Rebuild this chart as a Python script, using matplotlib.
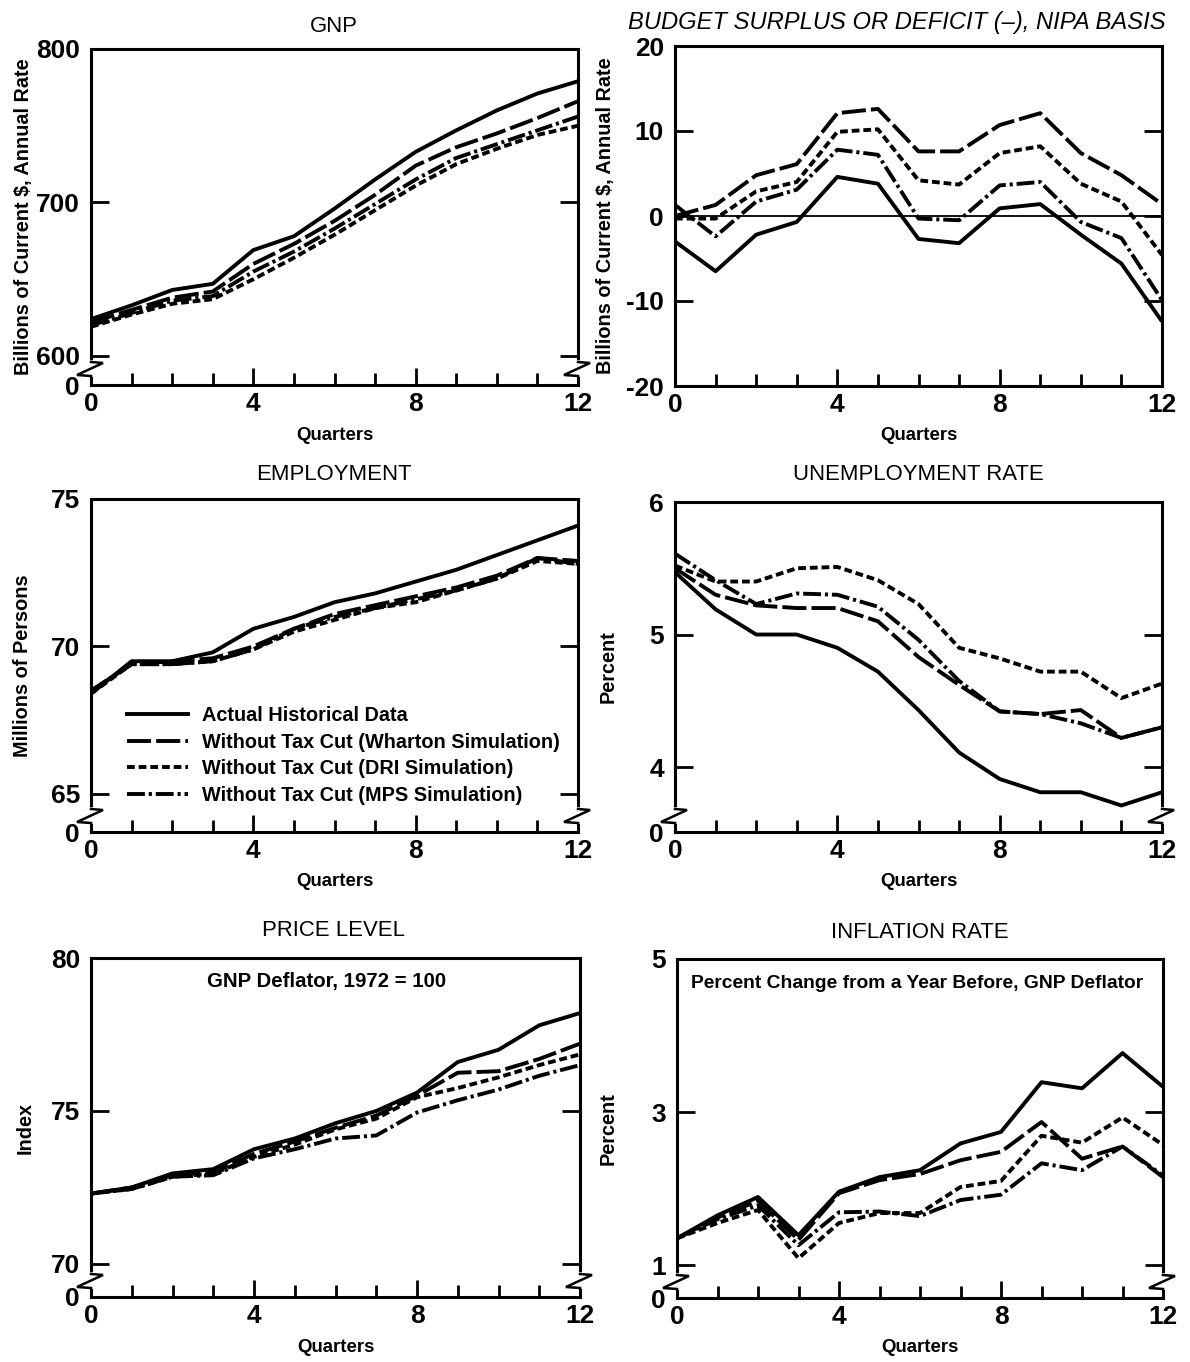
import matplotlib
matplotlib.use('Agg')
import matplotlib.pyplot as plt
from matplotlib.lines import Line2D
from matplotlib import font_manager

# prefer a condensed face like the original print
try:
    font_manager.findfont(font_manager.FontProperties(family='Liberation Sans Narrow'),
                          fallback_to_default=False)
    FAM = ['Liberation Sans Narrow', 'DejaVu Sans']
    K = 1.0
except Exception:
    FAM = ['Liberation Sans', 'DejaVu Sans']
    K = 0.84
plt.rcParams['font.family'] = FAM
plt.rcParams['axes.unicode_minus'] = False

W, H = 1190, 1362

# ---------------- data ----------------
quarters = list(range(13))
x_major = [0, 4, 8, 12]
series_names = ['Actual Historical Data',
                'Without Tax Cut (Wharton Simulation)',
                'Without Tax Cut (DRI Simulation)',
                'Without Tax Cut (MPS Simulation)']

gnp_actual = [624, 633, 643, 647, 669, 678, 696, 715, 733, 747, 760, 771, 779]
gnp_wharton = [622, 630, 638, 642, 660, 673, 688, 705, 724, 736, 745, 755, 766]
gnp_dri = [619, 627, 634, 637, 650, 664, 679, 695, 711, 725, 735, 744, 750]
gnp_mps = [620, 628, 636, 639, 655, 668, 683, 699, 715, 729, 738, 747, 756]

bud_actual = [-3.0, -6.5, -2.2, -0.7, 4.6, 3.8, -2.7, -3.2, 0.9, 1.4, -2.2, -5.6, -12.4]
bud_wharton = [0.0, 1.3, 4.8, 6.1, 12.1, 12.6, 7.6, 7.6, 10.7, 12.1, 7.4, 4.8, 1.4]
bud_dri = [-0.3, -0.3, 2.9, 4.0, 9.9, 10.2, 4.2, 3.7, 7.4, 8.2, 3.8, 1.7, -4.6]
bud_mps = [1.3, -2.4, 1.7, 3.1, 7.8, 7.2, -0.3, -0.5, 3.6, 4.0, -0.7, -2.6, -9.9]

emp_actual = [68.4, 69.5, 69.5, 69.8, 70.6, 71.0, 71.5, 71.8, 72.2, 72.6, 73.1, 73.6, 74.1]
emp_wharton = [68.5, 69.4, 69.5, 69.6, 70.0, 70.6, 71.1, 71.4, 71.7, 72.0, 72.4, 73.0, 72.9]
emp_dri = [68.4, 69.4, 69.4, 69.5, 69.9, 70.5, 70.9, 71.3, 71.5, 71.9, 72.3, 72.9, 72.8]
emp_mps = [68.5, 69.4, 69.4, 69.5, 69.9, 70.6, 71.0, 71.3, 71.6, 71.9, 72.3, 73.0, 72.8]

unr_actual = [5.47, 5.19, 5.0, 5.0, 4.9, 4.72, 4.43, 4.11, 3.91, 3.81, 3.81, 3.71, 3.81]
unr_wharton = [5.5, 5.3, 5.22, 5.2, 5.2, 5.1, 4.83, 4.62, 4.42, 4.4, 4.43, 4.22, 4.3]
unr_dri = [5.52, 5.4, 5.4, 5.5, 5.51, 5.41, 5.23, 4.9, 4.82, 4.72, 4.72, 4.52, 4.63]
unr_mps = [5.61, 5.41, 5.23, 5.31, 5.3, 5.21, 4.96, 4.65, 4.42, 4.4, 4.33, 4.22, 4.3]

prc_actual = [72.3, 72.5, 72.96, 73.1, 73.75, 74.1, 74.6, 75.0, 75.6, 76.6, 77.0, 77.8, 78.2]
prc_wharton = [72.3, 72.5, 72.9, 73.0, 73.6, 74.0, 74.45, 74.85, 75.5, 76.25, 76.3, 76.7, 77.2]
prc_dri = [72.3, 72.45, 72.85, 72.95, 73.5, 73.9, 74.4, 74.75, 75.45, 75.75, 76.1, 76.5, 76.85]
prc_mps = [72.3, 72.45, 72.85, 72.9, 73.45, 73.75, 74.1, 74.2, 74.95, 75.35, 75.7, 76.15, 76.5]

inf_actual = [1.35, 1.65, 1.89, 1.39, 1.96, 2.15, 2.24, 2.59, 2.74, 3.39, 3.31, 3.77, 3.33]
inf_wharton = [1.35, 1.62, 1.84, 1.33, 1.94, 2.11, 2.19, 2.37, 2.48, 2.87, 2.39, 2.55, 2.15]
inf_dri = [1.35, 1.55, 1.72, 1.09, 1.55, 1.68, 1.68, 2.02, 2.10, 2.69, 2.60, 2.93, 2.57]
inf_mps = [1.35, 1.60, 1.78, 1.26, 1.69, 1.70, 1.64, 1.85, 1.92, 2.33, 2.24, 2.55, 2.17]

gnp_ticks = [600, 700, 800]
bud_ticks = [-20, -10, 0, 10, 20]
emp_ticks = [65, 70, 75]
unr_ticks = [4, 5, 6]
prc_ticks = [70, 75, 80]
inf_ticks = [1, 3, 5]

# ---------------- styling ----------------
LW = 2.8
styles = [dict(linestyle='-'),
          dict(dashes=(6.2, 1.3)),
          dict(dashes=(2.0, 1.0)),
          dict(dashes=(4.6, 1.0, 0.8, 1.0))]

fig = plt.figure(figsize=(W / 100, H / 100), dpi=100)
fig.patch.set_facecolor('white')

panels = [
    dict(box=(91, 578, 49, 385), data=[gnp_actual, gnp_wharton, gnp_dri, gnp_mps],
         ticks=gnp_ticks, vb=581.1, top=800, brk=True, title='GNP',
         ylabel='Billions of Current $, Annual Rate', ylx=24, ty=26, tx=334, tsize=19),
    dict(box=(675, 1162, 46, 386), data=[bud_actual, bud_wharton, bud_dri, bud_mps],
         ticks=bud_ticks, vb=-20, top=20, brk=False,
         title='BUDGET SURPLUS OR DEFICIT (–), NIPA BASIS',
         ylabel='Billions of Current $, Annual Rate', ylx=606, ty=22, tx=897, tsize=20.4),
    dict(box=(91, 578, 499, 832), data=[emp_actual, emp_wharton, emp_dri, emp_mps],
         ticks=emp_ticks, vb=63.71, top=75, brk=True, title='EMPLOYMENT',
         ylabel='Millions of Persons', ylx=23, ty=475, tx=334, tsize=19),
    dict(box=(675, 1162, 502, 832), data=[unr_actual, unr_wharton, unr_dri, unr_mps],
         ticks=unr_ticks, vb=3.51, top=6, brk=True, title='UNEMPLOYMENT RATE',
         ylabel='Percent', ylx=608, ty=475, tx=918, tsize=19),
    dict(box=(91, 580, 958, 1297), data=[prc_actual, prc_wharton, prc_dri, prc_mps],
         ticks=prc_ticks, vb=68.92, top=80, brk=True, title='PRICE LEVEL',
         ylabel='Index', ylx=25, ty=931, tx=334, tsize=19,
         note='GNP Deflator, 1972 = 100', notexy=(327, 982), nsize=17.5),
    dict(box=(677, 1163, 959, 1298), data=[inf_actual, inf_wharton, inf_dri, inf_mps],
         ticks=inf_ticks, vb=0.57, top=5, brk=True, title='INFLATION RATE',
         ylabel='Percent', ylx=608, ty=932, tx=920, tsize=19,
         note='Percent Change from a Year Before, GNP Deflator', notexy=(917, 983),
         nsize=16.5),
]


def fx(px):
    return px / W


def fy(py):
    return 1 - py / H


axes = []
for p in panels:
    L, R, T, B = p['box']
    ax = fig.add_axes([L / W, 1 - B / H, (R - L) / W, (B - T) / H])
    axes.append(ax)
    for vals, st in zip(p['data'], styles):
        ax.plot(quarters, vals, color='black', lw=LW, solid_capstyle='butt',
                dash_capstyle='butt', **st)
    ax.set_xlim(0, 12)
    ax.set_ylim(p['vb'], p['top'])
    if p['brk']:
        ax.set_yticks([p['vb']] + p['ticks'])
        ax.set_yticklabels(['0'] + [str(t) for t in p['ticks']])
    else:
        ax.set_yticks(p['ticks'])
        ax.set_yticklabels([str(t) for t in p['ticks']])
    ax.set_xticks(x_major)
    ax.set_xticklabels([str(t) for t in x_major])
    ax.set_xticks(quarters, minor=True)
    ax.tick_params(axis='x', which='major', direction='in', length=12, width=2,
                   labelsize=22.5 * K, pad=5, top=False)
    ax.tick_params(axis='x', which='minor', direction='in', length=9, width=2, top=False)
    ax.tick_params(axis='y', which='major', direction='in', length=13, width=2,
                   labelsize=22.5 * K, pad=8, left=True, right=True)
    for lab in ax.get_xticklabels() + ax.get_yticklabels():
        lab.set_fontweight('bold')
    for s in ax.spines.values():
        s.set_linewidth(2.2)
    ax.set_xlabel('Quarters', fontsize=16 * K, fontweight='bold', va='center')
    ax.xaxis.set_label_coords(0.5, -50 / (B - T))
    ax.set_ylabel(p['ylabel'], fontsize=17 * K, fontweight='bold', va='center')
    ax.yaxis.set_label_coords((p['ylx'] - L) / (R - L), 0.5)
    ax.set_title(p['title'], fontsize=p['tsize'] * K, pad=0, va='center',
                 y=1 + (T - p['ty']) / (B - T),
                 style='italic' if not p['brk'] else 'normal')
    ax.title.set_x((p['tx'] - L) / (R - L))
    if 'note' in p:
        nx, ny = p['notexy']
        ax.text((nx - L) / (R - L), (B - ny) / (B - T), p['note'], transform=ax.transAxes,
                ha='center', va='center', fontsize=p['nsize'] * K, fontweight='bold')
    if not p['brk']:
        ax.axhline(0, color='black', lw=1.3)
    else:
        y1, y2 = B - 23, B - 10
        for X in (L, R):
            fig.add_artist(Line2D([fx(X), fx(X)], [fy(y1 + 1), fy(y2 - 1)], color='white',
                                  lw=4, transform=fig.transFigure, zorder=5))
            fig.add_artist(Line2D([fx(X), fx(X + 12), fx(X - 14), fx(X)],
                                  [fy(y1), fy(y1 + 1), fy(y2), fy(y2 + 1)],
                                  color='black', lw=1.8, transform=fig.transFigure,
                                  zorder=6, solid_joinstyle='miter'))

# legend in the employment panel
emp_ax = axes[2]
handles = [Line2D([0], [0], color='black', lw=LW, **st) for st in styles]
L, R, T, B = panels[2]['box']
leg = emp_ax.legend(handles, series_names, loc='upper left',
                    bbox_to_anchor=((127 - L) / (R - L), (B - 706) / (B - T)),
                    frameon=False, prop=dict(size=17 * K, weight='bold'),
                    handlelength=3.08, handletextpad=0.7,
                    labelspacing=0.38, borderpad=0, borderaxespad=0)

fig.savefig('out.png', dpi=100, facecolor='white')
